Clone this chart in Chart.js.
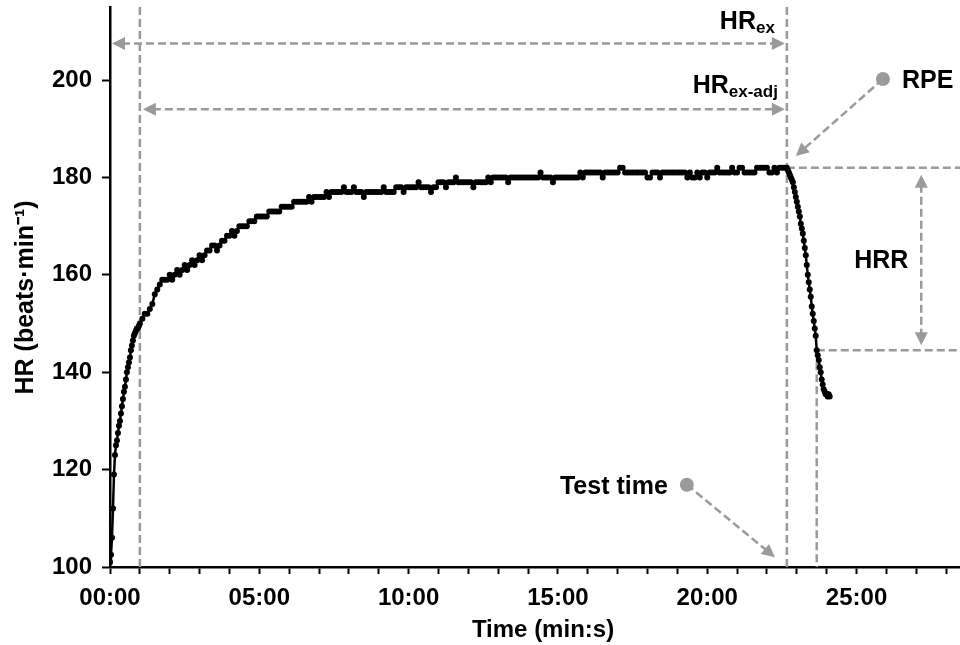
<!DOCTYPE html>
<html>
<head>
<meta charset="utf-8">
<script src="https://cdn.jsdelivr.net/npm/chart.js@4.4.1/dist/chart.umd.min.js"></script>
<style>
  html, body { margin: 0; padding: 0; background: #fff; overflow: hidden; }
  #wrap { width: 980px; height: 645px; }
</style>
</head>
<body>
<div id="wrap"><canvas id="hr-chart" width="980" height="645"></canvas></div>
<script>
// ---- data: heart rate (beats/min) ----
const warmupStepSec = 2;
const exerciseStartSec = 60;
const exerciseStepSec = 5;
const recoveryStartSec = 1360;   // 22:40, end of the test
const recoveryStepSec = 2;

// first minute, a reading every 2 s
const warmupHr = [
  101, 102.5, 106, 112, 119, 123, 125, 126, 127.5, 129,
  130, 131.5, 133, 134.5, 136, 137, 138.5, 140, 141, 142,
  143, 144.5, 145.5, 146.5, 147.5, 148, 148.5, 149, 149, 149.5
];

// from 01:00 to 22:40, one row per minute, a reading every 5 s
const exerciseHr = [
  150, 151, 152, 152, 153, 154, 156, 157, 158, 159, 159, 159,
  160, 159, 160, 161, 160, 161, 162, 161, 162, 163, 162, 163,
  164, 163, 164, 165, 165, 166, 166, 165, 166, 167, 167, 168,
  168, 169, 168, 169, 170, 170, 170, 170, 171, 171, 171, 172,
  172, 172, 172, 172, 173, 173, 173, 173, 173, 174, 174, 174,
  174, 174, 175, 175, 175, 175, 175, 175, 176, 175, 176, 176,
  176, 176, 176, 177, 176, 177, 177, 177, 177, 177, 178, 177,
  177, 177, 178, 177, 177, 177, 176, 177, 177, 177, 177, 177,
  177, 177, 178, 177, 177, 177, 177, 178, 178, 178, 177, 178,
  178, 178, 178, 178, 179, 178, 178, 178, 178, 177, 178, 178,
  179, 179, 179, 178, 179, 179, 179, 180, 179, 179, 179, 179,
  179, 179, 178, 179, 179, 179, 179, 179, 180, 179, 180, 180,
  180, 180, 180, 180, 179, 180, 180, 180, 180, 180, 180, 180,
  180, 180, 180, 180, 180, 181, 180, 180, 180, 180, 179, 180,
  180, 180, 180, 180, 180, 180, 180, 180, 180, 181, 180, 181,
  181, 181, 181, 181, 181, 181, 180, 181, 181, 181, 181, 181,
  181, 182, 182, 181, 181, 181, 181, 181, 181, 181, 181, 181,
  180, 180, 181, 181, 181, 180, 181, 181, 181, 181, 181, 181,
  181, 181, 181, 181, 180, 181, 180, 180, 181, 180, 181, 181,
  180, 181, 181, 181, 182, 181, 181, 181, 181, 181, 182, 181,
  181, 182, 182, 181, 181, 181, 181, 181, 182, 182, 182, 182,
  182, 181, 181, 182, 181, 182, 182, 182
];

// recovery, a reading every 2 s from 22:40
const recoveryHr = [
  182, 181.5, 181, 180.5, 180, 179.5, 179, 178, 177, 176,
  175, 174, 173, 172, 170.5, 169.5, 168.5, 167, 165.5, 164,
  162, 160, 158.5, 157, 155.5, 153.5, 152, 150.5, 149, 147.5,
  144.5, 143.5, 142.5, 141, 140, 138.5, 137.5, 136.5, 136, 135.5,
  135.5, 135, 135.5, 135
];

const minuteTicks = [0, 1, 2, 3, 4, 5, 6, 7, 8, 9, 10, 11, 12, 13, 14,
                     15, 16, 17, 18, 19, 20, 21, 22, 23, 24, 25, 26, 27, 28, 29];
const labelledMinutes = [0, 5, 10, 15, 20, 25];

// ---- markers used by the annotations ----
const adjStartSec = exerciseStartSec;   // HRex-adj skips the first minute
const testEndSec = recoveryStartSec;
const hrrEndSec = 1420;                 // one minute into recovery
const hrPeak = recoveryHr[0];
const hrAfterOneMin = recoveryHr[(hrrEndSec - recoveryStartSec) / recoveryStepSec];
const hrexArrowHr = 207.5;
const hrexAdjArrowHr = 194;
const rpeDot = { x: 1553, y: 200.2 };
const rpeTip = { x: 1378, y: 184.4 };
const testDot = { x: 1159, y: 116.9 };
const testTip = { x: 1336, y: 102 };
const hrrArrowSec = 1630;

const GREY = '#9a9a9a';
const FONT = '"Liberation Sans", Arial, sans-serif';

// build points
const hrPoints = [];
warmupHr.forEach((hr, i) => hrPoints.push({ x: i * warmupStepSec, y: hr }));
exerciseHr.forEach((hr, i) => hrPoints.push({ x: exerciseStartSec + i * exerciseStepSec, y: hr }));
recoveryHr.forEach((hr, i) => hrPoints.push({ x: recoveryStartSec + i * recoveryStepSec, y: hr }));

function mmss(sec) {
    const m = Math.floor(sec / 60), s = sec % 60;
    return String(m).padStart(2, '0') + ':' + String(s).padStart(2, '0');
}

function dashed(ctx, x1, y1, x2, y2) {
    ctx.beginPath();
    ctx.setLineDash([8, 4]);
    ctx.moveTo(x1, y1);
    ctx.lineTo(x2, y2);
    ctx.stroke();
    ctx.setLineDash([]);
}

function head(ctx, fx, fy, tx, ty) {
    const a = Math.atan2(ty - fy, tx - fx);
    const len = 13, half = 6.5;
    ctx.beginPath();
    ctx.moveTo(tx, ty);
    ctx.lineTo(tx - len * Math.cos(a) + half * Math.sin(a), ty - len * Math.sin(a) - half * Math.cos(a));
    ctx.lineTo(tx - len * Math.cos(a) - half * Math.sin(a), ty - len * Math.sin(a) + half * Math.cos(a));
    ctx.closePath();
    ctx.fill();
}

// dashed arrow, head at (x2,y2) and optionally at (x1,y1)
function arrow(ctx, x1, y1, x2, y2, both) {
    const a = Math.atan2(y2 - y1, x2 - x1);
    const cut = 10;
    const sx = both ? x1 + cut * Math.cos(a) : x1;
    const sy = both ? y1 + cut * Math.sin(a) : y1;
    dashed(ctx, sx, sy, x2 - cut * Math.cos(a), y2 - cut * Math.sin(a));
    head(ctx, x1, y1, x2, y2);
    if (both) head(ctx, x2, y2, x1, y1);
}

function subLabel(ctx, main, sub, right, baseline) {
    const mainFont = 'bold 25px ' + FONT;
    const subFont = 'bold 17px ' + FONT;
    ctx.font = mainFont;
    const wMain = ctx.measureText(main).width;
    ctx.font = subFont;
    const wSub = ctx.measureText(sub).width;
    const left = right - wMain - wSub;
    ctx.textAlign = 'left';
    ctx.textBaseline = 'alphabetic';
    ctx.font = mainFont;
    ctx.fillText(main, left, baseline);
    ctx.font = subFont;
    ctx.fillText(sub, left + wMain, baseline + 4);
}

const hrAnnotations = {
    id: 'hrAnnotations',
    beforeDatasetsDraw(chart) {
        const { ctx, chartArea } = chart;
        const px = v => chart.scales.x.getPixelForValue(v);
        const py = v => chart.scales.y.getPixelForValue(v);
        ctx.save();
        ctx.strokeStyle = GREY;
        ctx.fillStyle = GREY;
        ctx.lineWidth = 2.5;

        // vertical markers
        dashed(ctx, px(adjStartSec), chartArea.top, px(adjStartSec), chartArea.bottom);
        dashed(ctx, px(testEndSec), chartArea.top, px(testEndSec), chartArea.bottom);
        dashed(ctx, px(hrrEndSec), py(hrAfterOneMin), px(hrrEndSec), chartArea.bottom);

        // HR levels for HRR
        dashed(ctx, px(testEndSec), py(hrPeak), chartArea.right, py(hrPeak));
        dashed(ctx, px(hrrEndSec), py(hrAfterOneMin), chartArea.right, py(hrAfterOneMin));

        // duration arrows
        arrow(ctx, px(0) + 2, py(hrexArrowHr), px(testEndSec) - 2, py(hrexArrowHr), true);
        arrow(ctx, px(adjStartSec) + 3, py(hrexAdjArrowHr), px(testEndSec) - 2, py(hrexAdjArrowHr), true);
        arrow(ctx, px(hrrArrowSec), py(hrPeak) + 7, px(hrrArrowSec), py(hrAfterOneMin) - 5, true);

        // pointers
        arrow(ctx, px(rpeDot.x), py(rpeDot.y), px(rpeTip.x), py(rpeTip.y), false);
        arrow(ctx, px(testDot.x), py(testDot.y), px(testTip.x), py(testTip.y), false);
        [rpeDot, testDot].forEach(d => {
            ctx.beginPath();
            ctx.arc(px(d.x), py(d.y), 7, 0, Math.PI * 2);
            ctx.fill();
        });
        ctx.restore();
    },
    afterDatasetsDraw(chart) {
        const { ctx } = chart;
        const px = v => chart.scales.x.getPixelForValue(v);
        const py = v => chart.scales.y.getPixelForValue(v);
        ctx.save();
        ctx.fillStyle = '#000';
        subLabel(ctx, 'HR', 'ex', px(testEndSec) - 12, py(hrexArrowHr) - 15);
        subLabel(ctx, 'HR', 'ex-adj', px(testEndSec) - 9, py(hrexAdjArrowHr) - 16);

        ctx.font = 'bold 25px ' + FONT;
        ctx.textBaseline = 'alphabetic';
        ctx.textAlign = 'left';
        ctx.fillText('RPE', px(rpeDot.x) + 19, py(rpeDot.y) + 9);
        ctx.textAlign = 'right';
        ctx.fillText('Test time', px(testDot.x) - 19, py(testDot.y) + 9);
        ctx.textAlign = 'center';
        ctx.textBaseline = 'middle';
        ctx.fillText('HRR', px(hrrArrowSec) - 40, py((hrPeak + hrAfterOneMin) / 2) + 2);
        ctx.restore();
    }
};

Chart.defaults.font.family = FONT;
Chart.defaults.font.weight = 'bold';
Chart.defaults.color = '#000';

new Chart(document.getElementById('hr-chart'), {
    type: 'line',
    data: {
        datasets: [{
            label: 'HR',
            data: hrPoints,
            borderColor: '#000',
            borderWidth: 2.5,
            pointRadius: 3,
            pointBackgroundColor: '#000',
            pointBorderWidth: 0,
            tension: 0
        }]
    },
    options: {
        responsive: false,
        animation: false,
        layout: { padding: { top: 7, right: 0, bottom: 0, left: 0 } },
        plugins: { legend: { display: false }, tooltip: { enabled: false } },
        scales: {
            x: {
                type: 'linear',
                min: 0,
                max: 1740,
                afterFit(scale) {
                    scale.height = 78;
                    scale.paddingLeft = 0;
                    scale.paddingRight = 0;
                },
                afterBuildTicks(scale) {
                    scale.ticks = minuteTicks.map(m => ({ value: m * 60 }));
                },
                ticks: {
                    autoSkip: false,
                    maxRotation: 0,
                    padding: 10,
                    font: { size: 24, weight: 'bold' },
                    callback: v => labelledMinutes.includes(v / 60) ? mmss(v) : ''
                },
                grid: { drawOnChartArea: false, drawTicks: true, tickLength: 7, tickColor: '#000', tickWidth: 2 },
                border: { display: true, color: '#000', width: 2.5 },
                title: {
                    display: true,
                    text: 'Time (min:s)',
                    font: { size: 24, weight: 'bold' },
                    padding: { top: 0, bottom: 0 }
                }
            },
            y: {
                min: 100,
                max: 215,
                afterFit(scale) {
                    scale.width = 110;
                    scale.paddingTop = 0;
                    scale.paddingBottom = 0;
                },
                ticks: {
                    stepSize: 20,
                    includeBounds: false,
                    padding: 10,
                    font: { size: 24, weight: 'bold' }
                },
                grid: { drawOnChartArea: false, drawTicks: true, tickLength: 8, tickColor: '#000', tickWidth: 2 },
                border: { display: true, color: '#000', width: 2.5 },
                title: {
                    display: true,
                    // trailing spaces nudge the rotated title down a little
                    text: 'HR (beats·min⁻¹)   ',
                    font: { size: 25, weight: 'bold' },
                    padding: { top: 11, bottom: 0 }
                }
            }
        }
    },
    plugins: [hrAnnotations]
});
</script>
</body>
</html>
